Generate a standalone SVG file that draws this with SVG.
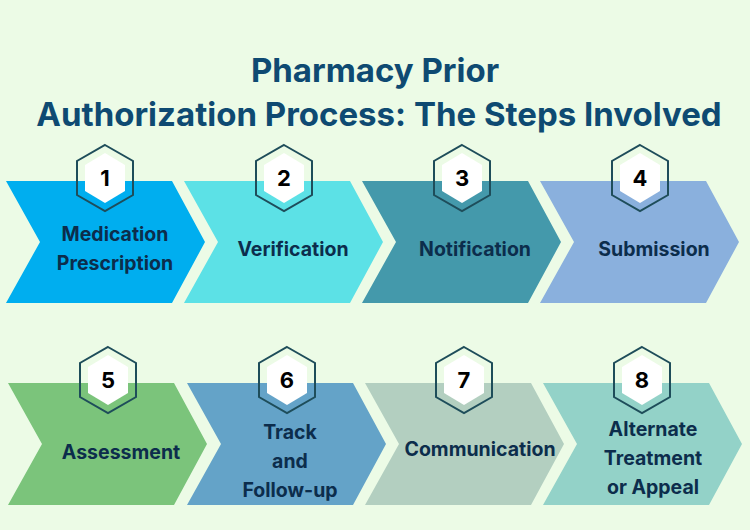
<svg xmlns="http://www.w3.org/2000/svg" width="750" height="530" viewBox="0 0 750 530">
<defs>
<style>
.t{font-family:Inter,"Liberation Sans",sans-serif;font-weight:700;fill:#0e4a72;font-size:33px;text-anchor:middle}
.l{font-family:Inter,"Liberation Sans",sans-serif;font-weight:700;fill:#0c2d4c;font-size:19.5px;text-anchor:middle}
.n{font-family:Inter,"Liberation Sans",sans-serif;font-weight:700;fill:#000;font-size:22px;text-anchor:middle}
.ho{fill:none;stroke:#1e4d5a;stroke-width:2}
.hi{fill:#fff}
</style>
<path id="chev" d="M0,0 H166 L199,61 L166,122 H0 L34,61 Z"/>
<g id="hex"><polygon class="ho" points="0,-33 28,-17 28,17 0,33 -28,17 -28,-17"/><polygon class="hi" points="0,-25 20,-13 20,13 0,25 -20,13 -20,-13"/></g>
</defs>
<rect width="750" height="530" fill="#ecfbe6"/>
<text class="t" x="375" y="82">Pharmacy Prior</text>
<text class="t" x="379" y="126">Authorization Process: The Steps Involved</text>
<g id="connectors"/>
<g id="s1"><use href="#chev" x="6" y="181" fill="#00aeef"/><use href="#hex" x="105" y="178"/><text class="n" x="105" y="186">1</text><text class="l" x="115" y="241">Medication</text><text class="l" x="115" y="270">Prescription</text></g>
<g id="s2"><use href="#chev" x="184" y="181" fill="#5ce1e6"/><use href="#hex" x="284" y="178"/><text class="n" x="284" y="186">2</text><text class="l" x="293" y="256">Verification</text></g>
<g id="s3"><use href="#chev" x="362" y="181" fill="#4499ab"/><use href="#hex" x="462" y="178"/><text class="n" x="462" y="186">3</text><text class="l" x="475" y="256">Notification</text></g>
<g id="s4"><use href="#chev" x="540" y="181" fill="#8ab0dd"/><use href="#hex" x="640" y="178"/><text class="n" x="640" y="186">4</text><text class="l" x="654" y="256">Submission</text></g>
<g id="s5"><use href="#chev" x="8" y="383" fill="#7bc47b"/><use href="#hex" x="108" y="380"/><text class="n" x="108" y="388">5</text><text class="l" x="121" y="459">Assessment</text></g>
<g id="s6"><use href="#chev" x="187" y="383" fill="#64a3c8"/><use href="#hex" x="287" y="380"/><text class="n" x="287" y="388">6</text><text class="l" x="290" y="439">Track</text><text class="l" x="290" y="468">and</text><text class="l" x="290" y="497">Follow-up</text></g>
<g id="s7"><use href="#chev" x="365" y="383" fill="#b3cfc0"/><use href="#hex" x="464" y="380"/><text class="n" x="464" y="388">7</text><text class="l" x="480" y="456">Communication</text></g>
<g id="s8"><use href="#chev" x="543" y="383" fill="#93d2c8"/><use href="#hex" x="642" y="380"/><text class="n" x="642" y="388">8</text><text class="l" x="653" y="436">Alternate</text><text class="l" x="653" y="465">Treatment</text><text class="l" x="653" y="494">or Appeal</text></g>
</svg>
